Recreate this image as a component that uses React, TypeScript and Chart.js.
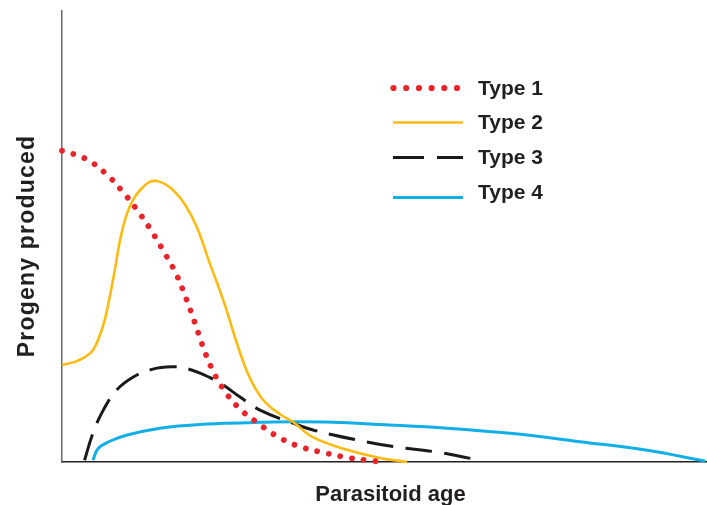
import React, { useEffect, useRef } from "react";
import { Chart, registerables } from "chart.js";

Chart.register(...registerables);

// Parasitoid age (0-100 relative units) and progeny produced (0-100 relative units)
const type1Age = [0, 3.57, 6.67, 9.3, 11.63, 13.8, 15.8, 17.7, 19.2, 20.5, 21.7, 23.1, 25.0, 27.4, 30.4, 33.6, 37.1, 40.8, 44.5, 48.4, 50.2];
const type1Progeny = [69.0, 67.3, 64.1, 60.1, 55.9, 51.4, 46.6, 41.7, 36.4, 31.3, 26.2, 21.1, 16.2, 12.0, 8.6, 5.5, 3.3, 2.0, 0.9, 0.2, 0];

const type2Age = [0, 2.0, 3.6, 4.8, 5.9, 6.7, 7.4, 8.2, 9.0, 10.1, 11.3, 12.6, 13.6, 14.7, 16.0, 17.5, 19.1, 20.9, 22.9, 25.0, 27.1, 28.7, 30.1, 31.6, 33.8, 35.8, 38.9, 44.2, 49.3, 53.5];
const type2Progeny = [21.5, 22.2, 23.3, 24.8, 28.2, 31.9, 36.6, 42.6, 49.2, 55.2, 58.8, 61.0, 62.1, 62.3, 61.6, 59.9, 57.0, 52.1, 44.1, 35.9, 26.4, 20.0, 16.0, 13.1, 10.6, 8.9, 5.5, 2.7, 0.9, 0];

const type3Age = [3.5, 4.8, 6.4, 8.5, 11.0, 14.1, 17.2, 19.1, 21.4, 24.5, 27.6, 30.7, 35.8, 38.9, 45.7, 51.9, 58.1, 63.7];
const type3Progeny = [0.4, 6.4, 11.5, 16.0, 18.8, 20.6, 21.1, 20.8, 19.7, 17.5, 14.4, 11.5, 8.6, 7.1, 4.9, 3.3, 2.2, 0.7];

const type4Age = [4.8, 5.6, 7.4, 10.1, 15.2, 20.3, 25.6, 30.7, 35.8, 42.0, 49.3, 59.7, 69.9, 80.3, 90.7, 99.7];
const type4Progeny = [0.4, 3.0, 4.6, 6.0, 7.5, 8.2, 8.6, 8.8, 8.9, 8.8, 8.3, 7.5, 6.3, 4.5, 2.6, 0.2];

const seriesLabels = ["Type 1", "Type 2", "Type 3", "Type 4"];
const xTitle = "Parasitoid age";
const yTitle = "Progeny produced";

const RED = "#e8252a";
const ORANGE = "#fdba12";
const BLACK = "#1a1a1a";
const BLUE = "#12aee8";
const TEXT = "#231f20";

const toPoints = (xs: number[], ys: number[]) => xs.map((x, i) => ({ x, y: ys[i] }));

const textPlugin = {
  id: "customText",
  afterDraw(chart: any) {
    const ctx = chart.ctx as CanvasRenderingContext2D;
    ctx.save();
    const lx0 = 393;
    const lx1 = 463;
    const lineYs = [88, 122.5, 157.5, 197.5];
    const baseYs = [95, 129, 164, 199];
    ctx.fillStyle = RED;
    for (let i = 0; i < 6; i++) {
      ctx.beginPath();
      ctx.arc(lx0 + 0.5 + i * 12.7, lineYs[0], 3.1, 0, Math.PI * 2);
      ctx.fill();
    }
    ctx.lineCap = "butt";
    ctx.strokeStyle = ORANGE;
    ctx.lineWidth = 2.6;
    ctx.beginPath();
    ctx.moveTo(lx0, lineYs[1]);
    ctx.lineTo(lx1, lineYs[1]);
    ctx.stroke();
    ctx.strokeStyle = BLACK;
    ctx.lineWidth = 3;
    ctx.setLineDash([31, 13]);
    ctx.beginPath();
    ctx.moveTo(lx0, lineYs[2]);
    ctx.lineTo(lx1, lineYs[2]);
    ctx.stroke();
    ctx.setLineDash([]);
    ctx.strokeStyle = BLUE;
    ctx.lineWidth = 3;
    ctx.beginPath();
    ctx.moveTo(lx0, lineYs[3]);
    ctx.lineTo(lx1, lineYs[3]);
    ctx.stroke();

    ctx.fillStyle = TEXT;
    ctx.font = 'bold 21px "Liberation Sans", Arial, sans-serif';
    ctx.textAlign = "left";
    ctx.textBaseline = "alphabetic";
    seriesLabels.forEach((t, i) => ctx.fillText(t, 478, baseYs[i]));

    ctx.font = 'bold 22px "Liberation Sans", Arial, sans-serif';
    ctx.textAlign = "center";
    ctx.fillText(xTitle, 390.5, 500.5);

    ctx.save();
    ctx.translate(33.5, 246);
    ctx.rotate(-Math.PI / 2);
    ctx.font = 'bold 23px "Liberation Sans", Arial, sans-serif';
    (ctx as any).letterSpacing = "1.2px";
    ctx.textAlign = "center";
    ctx.fillText(yTitle, 0, 0);
    ctx.restore();

    ctx.restore();
  },
};

export default function App() {
  const canvasRef = useRef<HTMLCanvasElement | null>(null);

  useEffect(() => {
    if (!canvasRef.current) return;
    const chart = new Chart(canvasRef.current, {
      type: "line",
      data: {
        datasets: [
          {
            label: seriesLabels[0],
            data: toPoints(type1Age, type1Progeny),
            borderColor: RED,
            borderWidth: 5.8,
            borderDash: [0.001, 11.8],
            borderCapStyle: "round",
            pointRadius: 0,
            tension: 0.4,
            fill: false,
            clip: 10,
          },
          {
            label: seriesLabels[1],
            data: toPoints(type2Age, type2Progeny),
            borderColor: ORANGE,
            borderWidth: 2.6,
            pointRadius: 0,
            tension: 0.4,
            fill: false,
            clip: 10,
          },
          {
            label: seriesLabels[2],
            data: toPoints(type3Age, type3Progeny),
            borderColor: BLACK,
            borderWidth: 3,
            borderDash: [27, 12],
            pointRadius: 0,
            tension: 0.4,
            fill: false,
            clip: 10,
          },
          {
            label: seriesLabels[3],
            data: toPoints(type4Age, type4Progeny),
            borderColor: BLUE,
            borderWidth: 3,
            pointRadius: 0,
            tension: 0.4,
            fill: false,
            clip: 10,
          },
        ],
      },
      options: {
        animation: false,
        responsive: false,
        maintainAspectRatio: false,
        layout: { padding: { left: 62, top: 11, right: 0, bottom: 43 } },
        plugins: { legend: { display: false }, tooltip: { enabled: false } },
        scales: {
          x: {
            type: "linear",
            min: 0,
            max: 100,
            ticks: { display: false },
            grid: { display: false, drawTicks: false },
            border: { display: true, color: "#231f20", width: 1.5 },
          },
          y: {
            type: "linear",
            min: 0,
            max: 100,
            ticks: { display: false },
            grid: { display: false, drawTicks: false },
            border: { display: true, color: "#666a6e", width: 1.5 },
          },
        },
      },
      plugins: [textPlugin],
    });
    return () => chart.destroy();
  }, []);

  return (
    <canvas
      ref={canvasRef}
      width={707}
      height={505}
      style={{ position: "absolute", left: 0, top: 0, width: 707, height: 505, display: "block" }}
    />
  );
}
